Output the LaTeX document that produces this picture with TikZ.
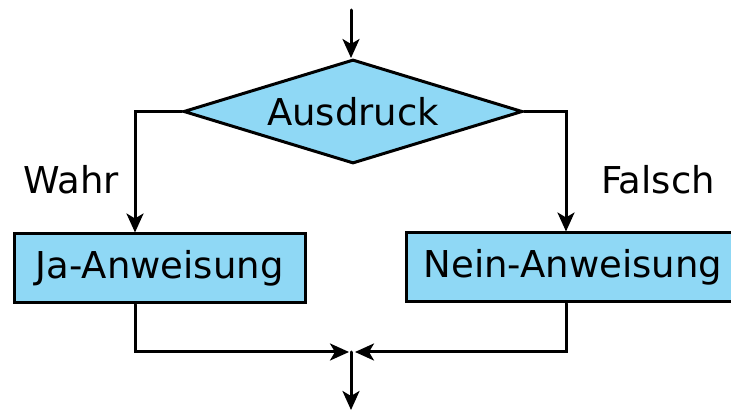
\documentclass[tikz,border=0pt]{standalone}
\usepackage{fontspec}
\setmainfont{DejaVu Sans}
\usepackage{xcolor}
\usepackage{tikz}
\usetikzlibrary{positioning,shapes.geometric,arrows.meta}

\definecolor{boxblue}{RGB}{143,216,245}

\begin{document}
\begin{tikzpicture}[x=1pt, y=-1pt, line cap=round, line join=miter,
    arr/.style={draw, line width=3pt, -{Stealth[length=19pt, width=17pt, inset=5pt]}},
    cond/.style={diamond, aspect=3.25, draw, fill=boxblue, line width=3pt, inner sep=0pt,
        minimum width=339pt, minimum height=104pt},
    stmt/.style={rectangle, draw, fill=boxblue, line width=3pt, inner sep=0pt,
        minimum height=69pt},
    every node/.style={font=\fontsize{37}{43}\selectfont}]
        \useasboundingbox (0,0) rectangle (731,411);

        % Define coordinates for the free ends
        \coordinate (start) at (351,10);
        \coordinate (join) at (351,352);
        \coordinate (end) at (351,410);

        % Draw condition and both statements
        \node[cond] (expr) at (353,111.5) {Ausdruck};
        \node[stmt, minimum width=291pt] (yes) at (159.5,268.5) {Ja-Anweisung};
        \node[stmt, minimum width=334pt] (no) at (573,267.5) {Nein-Anweisung};

        % Branch labels
        \node (wahr) at (71,180) {Wahr};
        \node (falsch) at (658,180) {Falsch};

        % Connect the nodes
        \draw[arr] (start) -- (start |- expr.north);
        \draw[arr] (expr.west) -| ([xshift=-24.5pt]yes.north);
        \draw[arr] (expr.east) -| ([xshift=-7pt]no.north);
        \draw[arr] ([xshift=-24.5pt]yes.south) |- ([xshift=-2pt]join);
        \draw[arr] ([xshift=-7pt]no.south) |- ([xshift=4pt]join);
        \draw[arr] (join) -- (end);
    \end{tikzpicture}
\end{document}
